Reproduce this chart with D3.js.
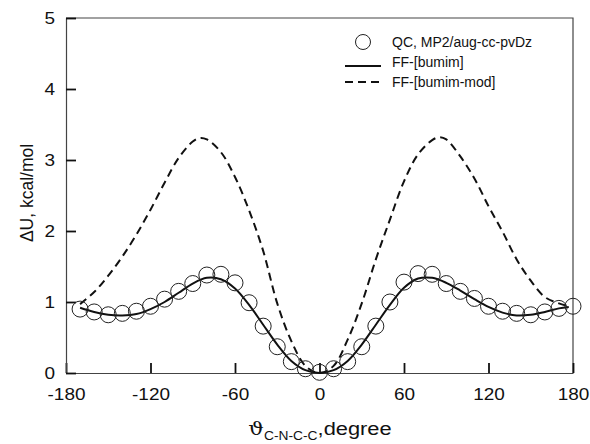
<!DOCTYPE html>
<html>
<head>
<meta charset="utf-8">
<script src="https://cdn.jsdelivr.net/npm/d3@7"></script>
<style>
  body { margin: 0; background: #fff; }
  svg { display: block; }
</style>
</head>
<body>
<div id="chart"></div>
<script>
// QC reference points (every 10 degrees)
const qcAngle = d3.range(-170, 181, 10);
const qcEnergy = [0.90, 0.86, 0.82, 0.84, 0.87, 0.94, 1.04, 1.15, 1.26, 1.38, 1.39, 1.27,
  0.99, 0.66, 0.37, 0.16, 0.06, 0.01, 0.06, 0.16, 0.37, 0.66, 1.00, 1.28, 1.40, 1.39,
  1.26, 1.15, 1.05, 0.94, 0.87, 0.84, 0.82, 0.86, 0.91, 0.94];

// FF-[bumim] (solid)
const ffAngle = [-170, -160, -150, -140, -130, -120, -110, -100, -90, -80, -70, -60, -50, -40, -30, -20, -10, 0,
  10, 20, 30, 40, 50, 60, 70, 80, 90, 100, 110, 120, 130, 140, 150, 160, 170, 177];
const ffEnergy = [0.92, 0.86, 0.82, 0.81, 0.83, 0.90, 1.00, 1.13, 1.26, 1.34, 1.32, 1.19, 0.96, 0.68, 0.40, 0.17, 0.04, 0.00,
  0.04, 0.17, 0.40, 0.68, 0.96, 1.20, 1.33, 1.34, 1.27, 1.16, 1.04, 0.93, 0.85, 0.81, 0.82, 0.86, 0.91, 0.93];

// FF-[bumim-mod] (dashed)
const modAngle = [-170, -160, -150, -140, -130, -120, -110, -100, -90, -85, -80, -70, -60, -50, -40, -30, -20, -10, 0,
  10, 20, 30, 40, 50, 60, 70, 80, 85, 90, 100, 110, 120, 130, 140, 150, 160, 170, 177];
const modEnergy = [0.97, 1.14, 1.37, 1.64, 1.95, 2.30, 2.68, 3.03, 3.26, 3.31, 3.29, 3.11, 2.76, 2.29, 1.72, 0.98, 0.45, 0.10, 0.00,
  0.10, 0.47, 0.98, 1.60, 2.16, 2.70, 3.08, 3.28, 3.32, 3.29, 3.05, 2.74, 2.35, 1.99, 1.60, 1.30, 1.07, 0.98, 0.94];

const xTicks = [-180, -120, -60, 0, 60, 120, 180];
const yTicks = [0, 1, 2, 3, 4, 5];

const width = 590;
const height = 444;
const margin = { top: 18, right: 17, bottom: 71, left: 66 };
const innerWidth = width - margin.left - margin.right;
const innerHeight = height - margin.top - margin.bottom;
const font = "'Liberation Sans', Arial, sans-serif";
const stretch = 1.15; // the reference lettering is a little wide

const svg = d3.select("#chart")
  .append("svg")
  .attr("width", width)
  .attr("height", height);

const g = svg.append("g").attr("transform", `translate(${margin.left},${margin.top})`);

const xScale = d3.scaleLinear([-180, 180], [0, innerWidth]);
const yScale = d3.scaleLinear([0, 5], [innerHeight, 0]);

// frame (top and right)
g.append("path")
  .attr("d", `M0,0H${innerWidth}V${innerHeight}`)
  .attr("fill", "none")
  .attr("stroke", "#444")
  .attr("stroke-width", 1.2);

// axes with inward ticks
const fmt = d => String(d);
const xAxisGroup = g.append("g")
  .attr("transform", `translate(0,${innerHeight})`)
  .call(d3.axisBottom(xScale).tickValues(xTicks).tickFormat(fmt).tickSizeInner(-10).tickSizeOuter(0).tickPadding(15));
const yAxisGroup = g.append("g")
  .call(d3.axisLeft(yScale).tickValues(yTicks).tickFormat(fmt).tickSizeInner(-10).tickSizeOuter(0).tickPadding(9.5));

[xAxisGroup, yAxisGroup].forEach(ax => {
  ax.select(".domain").attr("stroke", "#444").attr("stroke-width", 1.2);
  ax.selectAll(".tick line").attr("stroke", "#111").attr("stroke-width", 1.8);
  ax.selectAll(".tick text")
    .style("font-family", font)
    .style("font-size", "16.5px")
    .attr("fill", "#111")
    .attr("transform", `scale(${stretch},1)`);
});

const line = d3.line()
  .x(d => xScale(d[0]))
  .y(d => yScale(d[1]))
  .curve(d3.curveCatmullRom.alpha(0.5));

// dashed FF-[bumim-mod]
g.append("path")
  .datum(d3.zip(modAngle, modEnergy))
  .attr("d", line)
  .attr("fill", "none")
  .attr("stroke", "#111")
  .attr("stroke-width", 2)
  .attr("stroke-dasharray", "8,5");

// solid FF-[bumim]
g.append("path")
  .datum(d3.zip(ffAngle, ffEnergy))
  .attr("d", line)
  .attr("fill", "none")
  .attr("stroke", "#111")
  .attr("stroke-width", 2);

// QC circles
g.append("g")
  .selectAll("circle")
  .data(d3.zip(qcAngle, qcEnergy))
  .join("circle")
  .attr("cx", d => xScale(d[0]))
  .attr("cy", d => yScale(d[1]))
  .attr("r", 8)
  .attr("fill", "none")
  .attr("stroke", "#222")
  .attr("stroke-width", 1);

// legend
const legend = svg.append("g").style("font-family", font).style("font-size", "14px").attr("fill", "#111");
legend.append("circle").attr("cx", 363).attr("cy", 42).attr("r", 7.5)
  .attr("fill", "none").attr("stroke", "#222").attr("stroke-width", 1);
legend.append("line").attr("x1", 345).attr("x2", 381).attr("y1", 66).attr("y2", 66)
  .attr("stroke", "#111").attr("stroke-width", 2);
legend.append("line").attr("x1", 345).attr("x2", 381).attr("y1", 82).attr("y2", 82)
  .attr("stroke", "#111").attr("stroke-width", 2).attr("stroke-dasharray", "8,5");
legend.selectAll("text")
  .data(["QC, MP2/aug-cc-pvDz", "FF-[bumim]", "FF-[bumim-mod]"])
  .join("text")
  .attr("x", 392)
  .attr("y", (_, i) => 42 + i * 20)
  .attr("dy", "0.35em")
  .text(d => d);

// y axis label
svg.append("text")
  .attr("transform", `translate(33,193) rotate(-90)`)
  .attr("text-anchor", "middle")
  .style("font-family", font)
  .style("font-size", "17.5px")
  .attr("fill", "#111")
  .text("\u0394U, kcal/mol");

// x axis label
const xLabel = svg.append("text")
  .attr("transform", `translate(320,435) scale(${stretch},1)`)
  .attr("text-anchor", "middle")
  .style("font-family", font)
  .style("font-size", "19px")
  .attr("fill", "#111");
xLabel.append("tspan").style("font-family", "'DejaVu Serif', serif").text("\u03D1");
xLabel.append("tspan").attr("dy", 5).style("font-size", "12px").text("C-N-C-C");
xLabel.append("tspan").attr("dy", -5).text(",degree");
</script>
</body>
</html>
